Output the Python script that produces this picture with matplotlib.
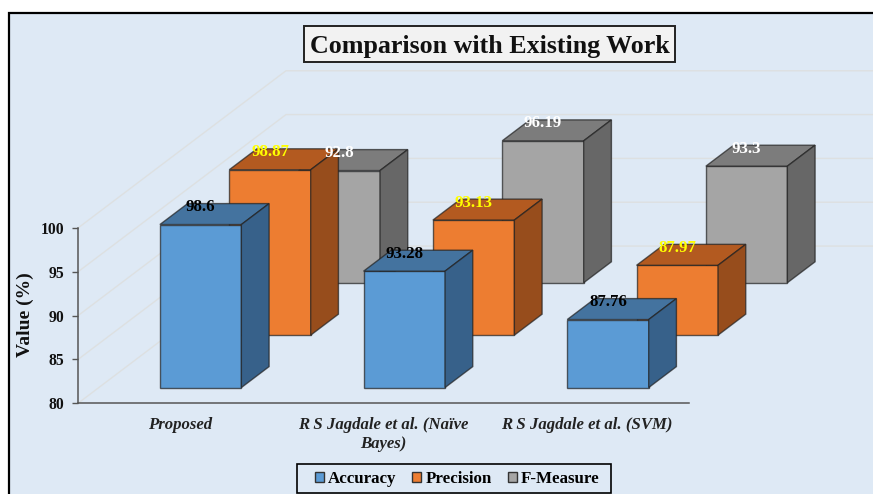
#!/usr/bin/env python3
import matplotlib
matplotlib.use("Agg")
import matplotlib.pyplot as plt
from matplotlib.patches import Patch, Polygon, Rectangle

W, H = 873, 494
BG = "#DEE9F5"
GRID = "#DDE0E1"
AXIS = "#555555"
EDGE = (0.13, 0.13, 0.13, 0.7)

categories = ["Proposed", "R S Jagdale et al. (Naïve\nBayes)", "R S Jagdale et al. (SVM)"]
series_names = ["Accuracy", "Precision", "F-Measure"]
accuracy = [98.6, 93.28, 87.76]
precision = [98.87, 93.13, 87.97]
f_measure = [92.8, 96.19, 93.3]
y_ticks = [80, 85, 90, 95, 100]

# front, top, side shades for each series
shades = [
    ("#5B9BD5", "#44739F", "#37618A"),
    ("#ED7D31", "#B35A20", "#974D1C"),
    ("#A5A5A5", "#7C7C7C", "#676767"),
]
label_colors = ["black", "#FFFF00", "white"]

# how far one depth row shifts things, in category units and value units
DEPTH_X = 0.3404
DEPTH_V = 5.98
BAR_W = 0.4
BAR_D = 0.4
BASE = 80


def fx(px):
    return px / W


def fy(py):
    return 1 - py / H


def pixel_box(left, top, right, bottom, **kw):
    """Rectangle given in pixels from the top left corner"""
    return Rectangle((fx(left), fy(bottom)), fx(right) - fx(left), fy(top) - fy(bottom),
                     transform=fig.transFigure, **kw)


def project(x, d, v):
    return (x + d * DEPTH_X, v + d * DEPTH_V)


def draw_box(ax, cat, row, value, colors, zorder):
    x0 = cat + 0.5 - BAR_W / 2
    x1 = x0 + BAR_W
    d0 = row + (1 - BAR_D) / 2
    d1 = d0 + BAR_D
    front = [project(x0, d0, BASE), project(x1, d0, BASE), project(x1, d0, value), project(x0, d0, value)]
    top = [project(x0, d0, value), project(x1, d0, value), project(x1, d1, value), project(x0, d1, value)]
    side = [project(x1, d0, BASE), project(x1, d1, BASE), project(x1, d1, value), project(x1, d0, value)]
    for pts, col in zip((front, top, side), colors):
        ax.add_patch(Polygon(pts, closed=True, facecolor=col, edgecolor=EDGE, linewidth=1.0,
                             joinstyle="miter", clip_on=False, zorder=zorder))
    return project(cat + 0.5, d0, value)


fig = plt.figure(figsize=(W / 100, H / 100), dpi=100, facecolor="white")
plt.rcParams["font.family"] = ["Liberation Serif", "DejaVu Serif"]

# panel background, runs off the right and bottom edges
fig.add_artist(pixel_box(8.5, 12.5, W + 20, H + 20, facecolor=BG, edgecolor="black", linewidth=1.6, zorder=-1))

ax = fig.add_axes([fx(78), fy(403.3), fx(689) - fx(78), fy(228) - fy(403.3)])
ax.patch.set_visible(False)
ax.set_xlim(0, 3)
ax.set_ylim(BASE, 100)

# side wall and back wall gridlines
for v in y_ticks:
    xs, ys = zip(project(0, 0, v), project(0, 3, v), project(3, 3, v))
    ax.plot(xs, ys, color=GRID, linewidth=1.0, clip_on=False, zorder=1)

all_series = [accuracy, precision, f_measure]
labels = []
for row in range(2, -1, -1):
    for cat in range(len(categories)):
        value = all_series[row][cat]
        zorder = 5 + (2 - row) * 5 + cat * 0.1
        pos = draw_box(ax, cat, row, value, shades[row], zorder)
        labels.append((pos, value, label_colors[row]))

for pos, value, col in labels:
    ax.annotate(f"{value:g}", xy=pos, xytext=(0, 12.5), textcoords="offset points", ha="center", va="center",
                color=col, fontsize=12.2, fontweight="bold", zorder=30, annotation_clip=False)

for s in ["top", "right"]:
    ax.spines[s].set_visible(False)
for s in ["left", "bottom"]:
    ax.spines[s].set_color(AXIS)
    ax.spines[s].set_linewidth(1.1)
    ax.spines[s].set_zorder(2)

ax.set_yticks(y_ticks)
ax.tick_params(axis="y", length=4, width=1.0, color=AXIS, pad=6, labelsize=11.3, labelcolor="#111111")
for t in ax.get_yticklabels():
    t.set_fontweight("bold")

ax.set_xticks([i + 0.5 for i in range(len(categories))])
ax.set_xticklabels(categories, fontsize=12.1, fontweight="bold", fontstyle="italic", color="#222222", linespacing=1.22)
ax.tick_params(axis="x", length=0, pad=9.8)

ax.set_ylabel("Value (%)", fontsize=14, fontweight="bold", color="#111111")
ax.yaxis.set_label_coords((34 - 78) / 611, 0.504)

# title box
fig.add_artist(pixel_box(304, 26, 675, 62.5, facecolor="#F2F2F2", edgecolor="#222222", linewidth=1.4, zorder=1))
fig.text(fx(489.5), fy(53), "Comparison with Existing Work", ha="center", va="baseline", fontsize=18.7,
         fontweight="bold", color="#111111", zorder=2)

handles = [Patch(facecolor=shades[i][0], edgecolor="#333333", linewidth=1.0, label=series_names[i]) for i in range(3)]
leg = ax.legend(handles=handles, loc="center", bbox_to_anchor=(fx(457), fy(479)), bbox_transform=fig.transFigure,
                ncol=3, frameon=False, handlelength=0.55, handleheight=0.55, handletextpad=0.22, columnspacing=0.95,
                borderpad=0, prop={"size": 12.2, "weight": "bold"})
leg.set_zorder(40)
fig.add_artist(pixel_box(297, 464, 611, 493.3, facecolor="none", edgecolor="black", linewidth=1.2, zorder=1))

fig.savefig("out.png", dpi=100)
